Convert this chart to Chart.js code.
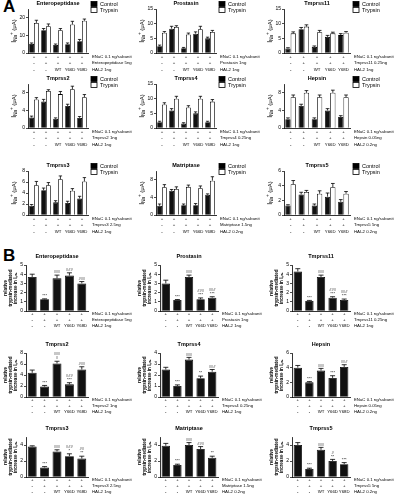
<!DOCTYPE html>
<html>
<head>
<meta charset="utf-8">
<script src="https://cdn.jsdelivr.net/npm/chart.js@4"></script>
<style>
	body { margin: 0; background: #fff; }
	#fig { position: relative; width: 394px; height: 499px; overflow: hidden; background: #fff; }
	#fig canvas { position: absolute; }
	.lbl { position: absolute; font: bold 17px "Liberation Sans", Arial, sans-serif; color: #000; }
</style>
</head>
<body>
<div id="fig">
	<div class="lbl" style="left:3px;top:-3px">A</div>
	<div class="lbl" style="left:3px;top:246px">B</div>
</div>
<script>
// condition rows under every chart
const enacRow = ['+', '+', '+', '+', '+'];
const proteaseRow = ['-', '+', '+', '+', '+'];
const hai2Row = ['-', '-', 'WT', 'Y66D', 'Y68D'];

const titles = ['Enteropeptidase', 'Prostasin', 'Tmprss11', 'Tmprss2', 'Tmprss4', 'Hepsin', 'Tmprss3', 'Matriptase', 'Tmprss5'];
const proteaseText = ['Enteropeptidase 5ng', 'Prostasin 1ng', 'Tmprss11 0.25ng', 'Tmprss2 1ng', 'Tmprss4 0.25ng', 'Hepsin 0.05ng', 'Tmprss3 2.5ng', 'Matriptase 1.5ng', 'Tmprss5 5ng'];
const hai2Text = ['HAI-2 1ng', 'HAI-2 1ng', 'HAI-2 1ng', 'HAI-2 1ng', 'HAI-2 1ng', 'HAI-2 0.2ng', 'HAI-2 1ng', 'HAI-2 0.2ng', 'HAI-2 0.2ng'];
const enacText = 'ENaC 0.1 ng/subunit';

// panel A: I_Na+ (uA), control vs trypsin
const yMaxA = [25, 15, 15, 10, 15, 10, 8, 10, 6];
const yStepA = [5, 5, 5, 2, 5, 2, 2, 2, 2];
const entCtrl = [5.2, 12.9, 4.6, 5.0, 6.7], entCtrlErr = [0.5, 1.0, 0.5, 0.7, 1.0];
const entTryp = [17.1, 15.2, 12.9, 16.2, 18.3], entTrypErr = [1.5, 1.3, 1.0, 1.8, 1.0];
const proCtrl = [2.3, 8.3, 1.6, 6.6, 5.0], proCtrlErr = [0.4, 0.8, 0.3, 0.6, 0.4];
const proTryp = [6.9, 8.9, 6.3, 8.1, 7.2], proTrypErr = [0.4, 0.4, 0.5, 1.0, 0.5];
const t11Ctrl = [1.5, 8.1, 2.1, 5.5, 6.1], t11CtrlErr = [0.3, 0.6, 0.3, 0.5, 0.5];
const t11Tryp = [6.7, 9.0, 7.1, 6.7, 6.9], t11TrypErr = [0.5, 0.6, 0.6, 0.4, 0.4];
const t2Ctrl = [2.4, 6.0, 2.1, 5.0, 2.3], t2CtrlErr = [0.3, 0.5, 0.2, 0.4, 0.3];
const t2Tryp = [6.5, 8.4, 7.7, 8.8, 7.0], t2TrypErr = [0.4, 0.3, 0.6, 0.7, 0.6];
const t4Ctrl = [2.0, 6.0, 1.5, 5.0, 2.0], t4CtrlErr = [0.3, 0.6, 0.3, 0.5, 0.3];
const t4Tryp = [8.0, 10.0, 7.0, 10.0, 9.0], t4TrypErr = [0.6, 0.8, 0.6, 0.8, 0.7];
const hepCtrl = [2.0, 5.0, 2.0, 4.0, 2.5], hepCtrlErr = [0.3, 0.4, 0.3, 0.4, 0.3];
const hepTryp = [7.0, 8.0, 7.0, 8.0, 7.0], hepTrypErr = [0.5, 0.5, 0.5, 0.6, 0.5];
const t3Ctrl = [1.7, 4.5, 2.3, 2.2, 3.0], t3CtrlErr = [0.2, 0.4, 0.3, 0.3, 0.4];
const t3Tryp = [5.4, 5.4, 6.5, 4.4, 6.1], t3TrypErr = [0.7, 0.5, 0.6, 0.4, 0.7];
const matCtrl = [2.1, 5.5, 2.2, 2.2, 4.6], matCtrlErr = [0.4, 0.3, 0.3, 0.4, 0.2];
const matTryp = [6.3, 5.9, 6.4, 6.1, 7.8], matTrypErr = [0.6, 0.5, 0.4, 0.5, 0.9];
const t5Ctrl = [1.3, 2.8, 1.3, 2.5, 1.8], t5CtrlErr = [0.1, 0.3, 0.2, 0.5, 0.3];
const t5Tryp = [4.2, 3.15, 2.9, 3.8, 2.9], t5TrypErr = [0.5, 0.2, 0.4, 0.5, 0.3];

// panel B: relative trypsin-mediated increase
const yMaxB = [5, 5, 5, 8, 4, 6, 5, 5, 5];
const entRel = [3.7, 1.27, 3.55, 3.85, 3.0], entRelErr = [0.3, 0.05, 0.35, 0.3, 0.2];
const entSig = ['', '***', '###', '###', '###'];
const proRel = [3.0, 1.2, 3.7, 1.27, 1.45], proRelErr = [0.35, 0.05, 0.2, 0.15, 0.1];
const proSig = ['', '***', '###', '###\n***', '###\n***'];
const t11Rel = [4.3, 1.1, 3.7, 1.45, 1.2], t11RelErr = [0.3, 0.05, 0.2, 0.1, 0.1];
const t11Sig = ['', '***', '###', '###\n***', '###\n***'];
const t2Rel = [4.4, 1.9, 6.1, 2.3, 5.0], t2RelErr = [0.5, 0.2, 0.4, 0.3, 0.5];
const t2Sig = ['', '***', '###\n#', '###\n***', '###'];
const t4Rel = [2.5, 1.0, 3.4, 1.7, 2.3], t4RelErr = [0.2, 0.1, 0.2, 0.2, 0.2];
const t4Sig = ['', '***', '###', '**', '###'];
const hepRel = [4.0, 2.0, 3.6, 2.6, 4.1], hepRelErr = [0.3, 0.1, 0.3, 0.3, 0.3];
const hepSig = ['', '***', '###', '***', '###'];
const t3Rel = [3.8, 1.2, 3.2, 2.6, 2.3], t3RelErr = [0.1, 0.1, 0.2, 0.3, 0.3];
const t3Sig = ['', '***', '###', '###\n*', '##\n**'];
const matRel = [3.9, 1.5, 4.0, 3.5, 2.4], matRelErr = [0.3, 0.1, 0.3, 0.3, 0.2];
const matSig = ['', '***', '###', '###', '**'];
const t5Rel = [4.0, 1.0, 3.4, 2.0, 1.6], t5RelErr = [0.3, 0.1, 0.3, 0.2, 0.2];
const t5Sig = ['', '***', '###', '#\n**', '***'];

Chart.defaults.font.family = '"Liberation Sans", Arial, sans-serif';
Chart.defaults.font.size = 5;
Chart.defaults.color = '#000';
Chart.defaults.animation = false;

const fig = document.getElementById('fig');
const FONT = '"Liberation Sans", Arial, sans-serif';

// draws error bars, titles, legend, condition rows and y titles
const deco = {
	id: 'deco',
	afterDatasetsDraw(chart, args, o) {
		const ctx = chart.ctx, y = chart.scales.y, x = chart.scales.x, a = chart.chartArea;
		ctx.save();
		ctx.strokeStyle = '#000';
		ctx.fillStyle = '#000';
		ctx.lineWidth = 0.8;
		chart.data.datasets.forEach((ds, di) => {
			chart.getDatasetMeta(di).data.forEach((bar, i) => {
				const yt = y.getPixelForValue(ds.data[i] + ds.err[i]);
				const w = Math.min(bar.width * 0.35, 2.5);
				ctx.beginPath();
				ctx.moveTo(bar.x, bar.y);
				ctx.lineTo(bar.x, yt);
				ctx.moveTo(bar.x - w, yt);
				ctx.lineTo(bar.x + w, yt);
				ctx.stroke();
				if (ds.sig && ds.sig[i]) {
					const lines = ds.sig[i].split('\n');
					ctx.font = '4px ' + FONT;
					ctx.textAlign = 'center';
					ctx.textBaseline = 'bottom';
					lines.forEach((t, k) => ctx.fillText(t, bar.x, yt - 1 - (lines.length - 1 - k) * 4));
				}
			});
		});

		// chart title
		ctx.font = 'bold 5.5px ' + FONT;
		ctx.textAlign = 'center';
		ctx.textBaseline = 'middle';
		ctx.fillText(o.title, (a.left + a.right) / 2, a.top - o.titleGap);

		// legend for panel A
		if (o.legend) {
			ctx.font = '5.5px ' + FONT;
			ctx.textAlign = 'left';
			const lx = a.right + 3;
			[['Control', '#000'], ['Trypsin', '#fff']].forEach((it, k) => {
				const ly = a.top - 5 + k * 6;
				ctx.fillStyle = it[1];
				ctx.fillRect(lx, ly - 2.5, 6, 5);
				ctx.strokeRect(lx, ly - 2.5, 6, 5);
				ctx.fillStyle = '#000';
				ctx.fillText(it[0], lx + 9, ly);
			});
		}

		// condition rows
		ctx.font = '4.3px ' + FONT;
		[[enacRow, enacText], [proteaseRow, o.proteaseText], [hai2Row, o.hai2Text]].forEach((row, r) => {
			const ry = a.bottom + o.rowStart + r * o.rowGap;
			ctx.textAlign = 'center';
			row[0].forEach((s, i) => ctx.fillText(s, x.getPixelForValue(i), ry));
			ctx.textAlign = 'left';
			ctx.fillText(row[1], a.right + 4, ry);
		});

		// y axis title
		ctx.translate(o.ytx, (a.top + a.bottom) / 2);
		ctx.rotate(-Math.PI / 2);
		ctx.textAlign = 'left';
		ctx.textBaseline = 'middle';
		if (o.legend) {
			const t1 = 'I', t2 = 'Na', t3 = '+', t4 = ' (\u03bcA)';
			ctx.font = '7px ' + FONT;
			const w1 = ctx.measureText(t1).width;
			ctx.font = '4.5px ' + FONT;
			const w2 = ctx.measureText(t2).width;
			const w3 = ctx.measureText(t3).width;
			ctx.font = '6px ' + FONT;
			const w4 = ctx.measureText(t4).width;
			let sx = -(w1 + w2 + w3 + w4) / 2;
			ctx.font = '7px ' + FONT; ctx.fillText(t1, sx, 0); sx += w1;
			ctx.font = '4.5px ' + FONT; ctx.fillText(t2, sx, 2); sx += w2;
			ctx.fillText(t3, sx, -2); sx += w3;
			ctx.font = '6px ' + FONT; ctx.fillText(t4, sx, 0);
		} else {
			ctx.font = 'bold 4.6px ' + FONT;
			ctx.textAlign = 'center';
			ctx.fillText('relative', 0, -5);
			ctx.fillText('trypsin-mediated', 0, 0);
			ctx.fillText('increase in I\u2099\u2090\u208A', 0, 5);
		}
		ctx.restore();
	}
};

function panel(o) {
	const W = 134, H = o.bottom - o.top + 38;
	const cv = document.createElement('canvas');
	cv.width = W; cv.height = H;
	cv.style.left = o.x0 + 'px';
	cv.style.top = (o.top - 14) + 'px';
	cv.style.width = W + 'px';
	cv.style.height = H + 'px';
	fig.appendChild(cv);
	new Chart(cv, {
		type: 'bar',
		data: { labels: hai2Row, datasets: o.datasets },
		options: {
			responsive: false,
			animation: false,
			devicePixelRatio: 1,
			layout: { padding: { left: 0, top: 14, right: W - o.axR, bottom: 21 } },
			plugins: { legend: { display: false }, tooltip: { enabled: false }, deco: o },
			scales: {
				x: {
					grid: { display: false },
					border: { color: '#000', width: 0.8 },
					ticks: { display: false },
					afterFit: s => { s.height = 3; }
				},
				y: {
					min: 0, max: o.max,
					ticks: { stepSize: o.step, padding: 1, font: { size: 5 } },
					grid: { drawOnChartArea: false, tickLength: 2, color: '#000', lineWidth: 0.7 },
					border: { color: '#000', width: 0.8 },
					afterFit: s => { s.width = o.axL; }
				}
			}
		},
		plugins: [deco]
	});
}

const ctrlA = [entCtrl, proCtrl, t11Ctrl, t2Ctrl, t4Ctrl, hepCtrl, t3Ctrl, matCtrl, t5Ctrl];
const ctrlErrA = [entCtrlErr, proCtrlErr, t11CtrlErr, t2CtrlErr, t4CtrlErr, hepCtrlErr, t3CtrlErr, matCtrlErr, t5CtrlErr];
const trypA = [entTryp, proTryp, t11Tryp, t2Tryp, t4Tryp, hepTryp, t3Tryp, matTryp, t5Tryp];
const trypErrA = [entTrypErr, proTrypErr, t11TrypErr, t2TrypErr, t4TrypErr, hepTrypErr, t3TrypErr, matTrypErr, t5TrypErr];
const relB = [entRel, proRel, t11Rel, t2Rel, t4Rel, hepRel, t3Rel, matRel, t5Rel];
const relErrB = [entRelErr, proRelErr, t11RelErr, t2RelErr, t4RelErr, hepRelErr, t3RelErr, matRelErr, t5RelErr];
const sigB = [entSig, proSig, t11Sig, t2Sig, t4Sig, hepSig, t3Sig, matSig, t5Sig];

// layout of the grid
const colX = [0, 130, 260];
const colA = [{ axL: 28, axR: 88 }, { axL: 26, axR: 86 }, { axL: 24, axR: 90 }];
const rowA = [{ top: 9, bottom: 53 }, { top: 84, bottom: 128 }, { top: 171, bottom: 215 }];
const colB = [{ axL: 26, axR: 88 }, { axL: 30, axR: 88 }, { axL: 32, axR: 90 }];
const rowB = [{ top: 265, bottom: 311 }, { top: 353, bottom: 397 }, { top: 437, bottom: 477 }];

for (let i = 0; i < 9; i++) {
	const r = Math.floor(i / 3), c = i % 3;
	panel({
		x0: colX[c], top: rowA[r].top, bottom: rowA[r].bottom,
		axL: colA[c].axL, axR: colA[c].axR, ytx: colA[c].axL - 14,
		max: yMaxA[i], step: yStepA[i], legend: true, titleGap: 5.5,
		rowStart: 3.5, rowGap: 6.5,
		title: titles[i], proteaseText: proteaseText[i], hai2Text: hai2Text[i],
		datasets: [
			{ data: ctrlA[i], err: ctrlErrA[i], backgroundColor: '#111', borderColor: '#000', borderWidth: 0.8, categoryPercentage: 0.8, barPercentage: 1 },
			{ data: trypA[i], err: trypErrA[i], backgroundColor: '#fff', borderColor: '#000', borderWidth: 0.8, categoryPercentage: 0.8, barPercentage: 1 }
		]
	});
}

for (let i = 0; i < 9; i++) {
	const r = Math.floor(i / 3), c = i % 3;
	panel({
		x0: colX[c], top: rowB[r].top, bottom: rowB[r].bottom,
		axL: colB[c].axL, axR: colB[c].axR, ytx: colB[c].axL - 15,
		max: yMaxB[i], step: 1, legend: false, titleGap: 9,
		rowStart: 3, rowGap: 6,
		title: titles[i], proteaseText: proteaseText[i], hai2Text: hai2Text[i],
		datasets: [
			{ data: relB[i], err: relErrB[i], sig: sigB[i], backgroundColor: '#111', borderColor: '#000', borderWidth: 0.8, categoryPercentage: 0.72, barPercentage: 1 }
		]
	});
}
</script>
</body>
</html>
